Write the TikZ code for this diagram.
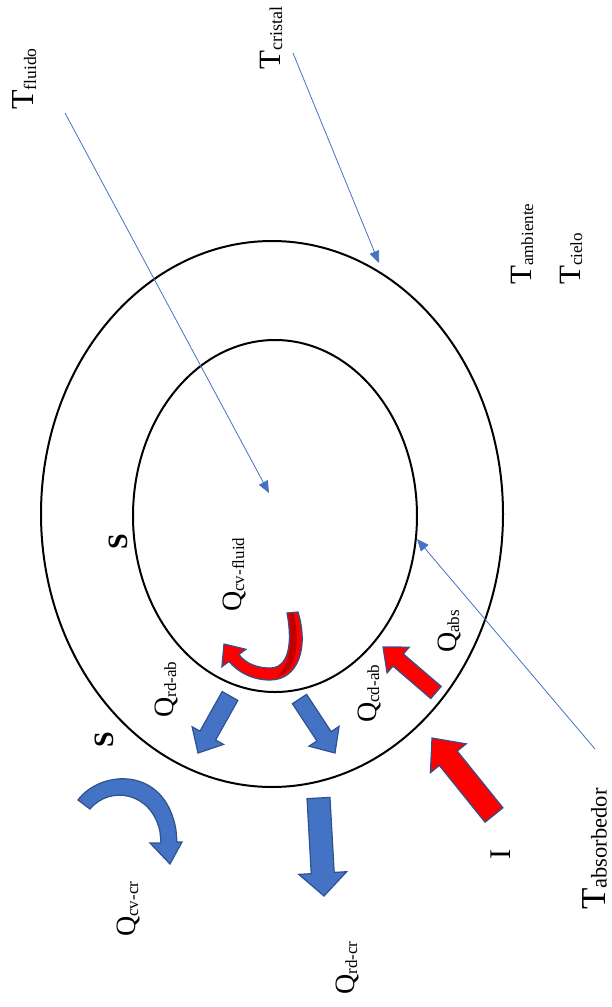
\documentclass[tikz,border=0pt]{standalone}
\usepackage{fontspec}
\setmainfont{Liberation Serif}[Ligatures=CommonOff]
\usetikzlibrary{calc,arrows.meta}
\definecolor{ablue}{HTML}{4472C4}
\definecolor{edgeblue}{HTML}{2F528F}
\definecolor{ared}{HTML}{FF0000}
\definecolor{dred}{HTML}{C00000}
\newcommand\sublab[5]{{\fontsize{#1}{#1}\selectfont #3\raisebox{-#5}{\fontsize{#2}{#2}\selectfont #4}}}
\newcommand\barrow[6]{%
  \coordinate (bC) at ($(#3)!#6!(#2)$);
  \draw[#1] ($(#2)!#4!90:(#3)$) -- ($(bC)!#4!90:(#3)$) -- ($(bC)!#5!90:(#3)$) -- (#3)
    -- ($(bC)!#5!-90:(#3)$) -- ($(bC)!#4!-90:(#3)$) -- ($(#2)!#4!-90:(#3)$) -- cycle;}
\tikzset{
  lab/.style={rotate=90, anchor=base west, inner sep=0pt},
  thinarrow/.style={draw=ablue, line width=0.8pt, -{Triangle[length=12pt,width=10pt]}},
  ring/.style={draw=black, line width=2pt},
  bluearrow/.style={fill=ablue, draw=edgeblue, line width=1.2pt, line join=miter},
  redarrow/.style={fill=ared, draw=edgeblue, line width=1.2pt, line join=miter},
}
\begin{document}
\begin{tikzpicture}[x=1pt, y=-1pt]
\useasboundingbox (0,0) rectangle (612,1007);
% rings
\coordinate (oc) at (272,514);
\coordinate (ic) at (275,516);
\draw[ring] (oc) ellipse [x radius=231pt, y radius=273pt];
\draw[ring] (ic) ellipse [x radius=142pt, y radius=176pt];
% temperature labels
\node[lab] (tfl) at (34,110) {\sublab{32pt}{17.5pt}{T}{fluido}{2pt}};
\node[lab] (tcr) at (280,70) {\sublab{31pt}{18pt}{T}{cristal}{2pt}};
\node[lab] (tam) at (531,285) {\sublab{31pt}{17pt}{T}{ambiente}{2pt}};
\node[lab] (tci) at (580,285) {\sublab{31pt}{17pt}{T}{cielo}{2pt}};
\node[lab] (tab) at (605,910) {\sublab{35pt}{22.5pt}{T}{absorbedor}{1.5pt}};
% thin pointer lines
\coordinate (flA) at (65,113); \coordinate (flB) at (269,493);
\coordinate (crA) at (293,53); \coordinate (crB) at (379,263);
\coordinate (abA) at (595,749); \coordinate (abB) at (417,539);
\draw[thinarrow] (flA) -- (flB);
\draw[thinarrow] (crA) -- (crB);
\draw[thinarrow] (abA) -- (abB);
% block arrows
\coordinate (iA) at (494,815); \coordinate (iB) at (432,738);
\barrow{redarrow}{iA}{iB}{11.5pt}{23pt}{26pt}
\coordinate (cdA) at (436,692.5); \coordinate (cdB) at (383,647);
\barrow{redarrow}{cdA}{cdB}{8pt}{17pt}{20pt}
\coordinate (raA) at (230,696); \coordinate (raB) at (198,753);
\barrow{bluearrow}{raA}{raB}{9pt}{18pt}{20pt}
\coordinate (rbA) at (299.5,699); \coordinate (rbB) at (335,753);
\barrow{bluearrow}{rbA}{rbB}{8.5pt}{18pt}{20pt}
\coordinate (rcA) at (318.5,798); \coordinate (rcB) at (324,896);
\barrow{bluearrow}{rcA}{rcB}{11.5pt}{24pt}{23pt}
% curved blue arrow (convection from cover)
\draw[bluearrow] (78,800) .. controls (100,770) and (165,765) .. (176,830) -- (177,842)
  -- (182,842) -- (170,864) -- (150,843) -- (161,843) -- (160,832)
  .. controls (152,792) and (110,785) .. (90,809) -- cycle;
% curved red arrow (convection to fluid)
\draw[redarrow] (298,612) .. controls (309,648) and (298,680) .. (270,680)
  .. controls (252,680) and (238,672) .. (229,661.5) -- (221.9,666.7) -- (224,644)
  -- (246,649.3) -- (238.9,654.5) .. controls (246,664) and (258,668) .. (270,668)
  .. controls (288,668) and (293,645) .. (287,613) -- cycle;
\fill[dred] (293.5,613) .. controls (302,648) and (294,674) .. (276,677)
  .. controls (289,668) and (293,645) .. (288.5,614) -- cycle;
% heat labels
\node[lab] (qcvf) at (241,612) {\sublab{28pt}{17pt}{Q}{cv-fluid}{3pt}};
\node[lab] (qrdab) at (173,718) {\sublab{28pt}{17pt}{Q}{rd-ab}{3pt}};
\node[lab] (qcdab) at (376,723) {\sublab{28pt}{17pt}{Q}{cd-ab}{3pt}};
\node[lab] (qabs) at (456,653) {\sublab{28pt}{17pt}{Q}{abs}{3pt}};
\node[lab] (qcvcr) at (135,937) {\sublab{28pt}{17pt}{Q}{cv-cr}{3pt}};
\node[lab] (qrdcr) at (354,995) {\sublab{28pt}{17pt}{Q}{rd-cr}{3pt}};
\node[lab] (irr) at (510,860) {\fontsize{30pt}{30pt}\selectfont I};
\node[lab] (s1) at (127,550) {\fontsize{28pt}{28pt}\selectfont\bfseries S};
\node[lab] (s2) at (113,748) {\fontsize{28pt}{28pt}\selectfont\bfseries S};
\end{tikzpicture}
\end{document}
